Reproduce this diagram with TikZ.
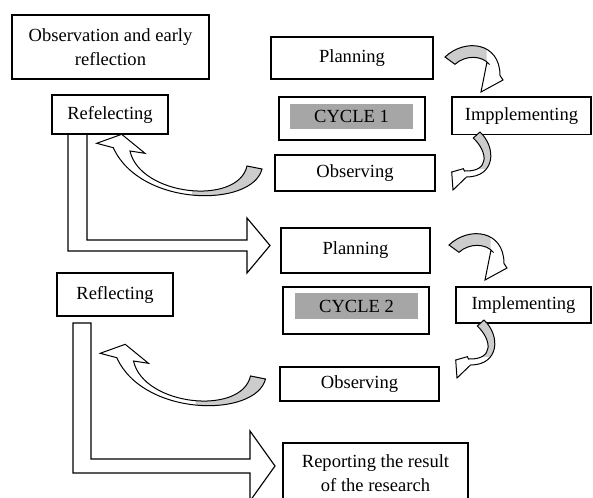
\documentclass[tikz,border=0pt]{standalone}
\usepackage{fontspec}
\setmainfont{Liberation Serif}
\definecolor{cyclegray}{RGB}{166,166,166}
\definecolor{arrgray}{RGB}{204,204,204}
\newcommand\apathA{(113.3,147.7) .. controls (140,207) and (252,208) .. (262,169) -- (247,166) .. controls (238,206) and (140,196) .. (130,151) -- (145,153.3) -- (121.7,134.3) -- (96.7,143.3) -- cycle}
\newcommand\apathB{(445,57) .. controls (465,38) and (500,42) .. (500,75.5) -- (503,80) -- (481,92) -- (487,62) -- (489.5,64.5) .. controls (482,55) and (465,55) .. (455,64.3) -- cycle}
\newcommand\apathC{(480,132) .. controls (497,148) and (495,177) .. (466.5,177) -- (453,190) -- (451.7,172) -- (463.3,168.7) -- (464.5,171) .. controls (490,172) and (488,152) .. (473.3,138) -- cycle}
\begin{document}
\begin{tikzpicture}[x=0.75pt,y=-0.75pt,
  box/.style={draw=black,line width=0.9pt,fill=white,inner sep=0pt,align=center,
    font=\fontsize{13.9}{17.6}\selectfont},
  graylabel/.style={fill=cyclegray,inner sep=0pt,align=center,
    font=\fontsize{13.9}{17.6}\selectfont},
  blockarr/.style={draw=black,line width=0.85pt,fill=white,line join=miter},
  arrline/.style={draw=black,line width=0.75pt,line join=miter},
  curvA/.pic={
    \path[fill=white] \apathA;
    \begin{scope}\clip (192,150) rectangle (275,212); \fill[arrgray] \apathA; \end{scope}
    \path[arrline] \apathA;
  },
  curvB/.pic={
    \path[fill=white] \apathB;
    \begin{scope}\clip (430,30) rectangle (486.5,66); \fill[arrgray] \apathB; \end{scope}
    \path[arrline] \apathB;
  },
  curvC/.pic={
    \path[fill=white] \apathC;
    \begin{scope}\clip (470,125) rectangle (500,168); \fill[arrgray] \apathC; \end{scope}
    \path[arrline] \apathC;
  }]
\useasboundingbox (0,0) rectangle (593,497);
\begin{scope}
\clip (0,0) rectangle (593,497);
% big L-shaped block arrows
\path[blockarr] (68,134) -- (68,251) -- (247,251) -- (247,273) -- (270,245.5) -- (247,218) -- (247,240) -- (87,240) -- (87,134);
\path[blockarr] (73,323) -- (73,473) -- (250,473) -- (250,501) -- (275,466) -- (250,431) -- (250,459) -- (91,459) -- (91,323) -- cycle;
% boxes
\node[box,minimum width=147.75pt,minimum height=48pt] (obs0) at (110.5,47) {Observation and early\\reflection};
\node[box,minimum width=121.5pt,minimum height=31.5pt] (plan1) at (352,58) {Planning};
\node[box,minimum width=87pt,minimum height=29.25pt] (refl1) at (110,114.5) {Refelecting};
\node[box,minimum width=109.5pt,minimum height=32.25pt] (cyc1) at (352,118.5) {};
\node[graylabel,minimum width=92.25pt,minimum height=19.1pt] (cyc1lab) at (351.5,116.75) {CYCLE 1};
\node[box,minimum width=104.25pt,minimum height=28pt] (impl1) at (521.5,115.65) {Impplementing};
\node[box,minimum width=120pt,minimum height=27pt] (obs1) at (355,173) {Observing};
\node[box,minimum width=111.75pt,minimum height=33.75pt] (plan2) at (355.5,250.5) {Planning};
\node[box,minimum width=87pt,minimum height=32.25pt] (refl2) at (115,294.5) {Reflecting};
\node[box,minimum width=109.5pt,minimum height=35.25pt] (cyc2) at (356,310.5) {};
\node[graylabel,minimum width=92.25pt,minimum height=19.5pt] (cyc2lab) at (356.5,306) {CYCLE 2};
\node[box,minimum width=101.25pt,minimum height=27pt] (impl2) at (523.5,305) {Implementing};
\node[box,minimum width=119.25pt,minimum height=25.5pt] (obs2) at (359.5,384) {Observing};
\node[box,minimum width=138.75pt,minimum height=45pt] (report) at (375.5,473) {Reporting the result\\of the research};
% curved arrows
\pic (a1) at (0,0) {curvA};
\pic (b1) at (0,0) {curvB};
\pic (c1) at (0,0) {curvC};
\pic (a2) at (3.5,210) {curvA};
\pic (b2) at (4,188) {curvB};
\pic (c2) at (4,188) {curvC};
\end{scope}
\end{tikzpicture}
\end{document}
